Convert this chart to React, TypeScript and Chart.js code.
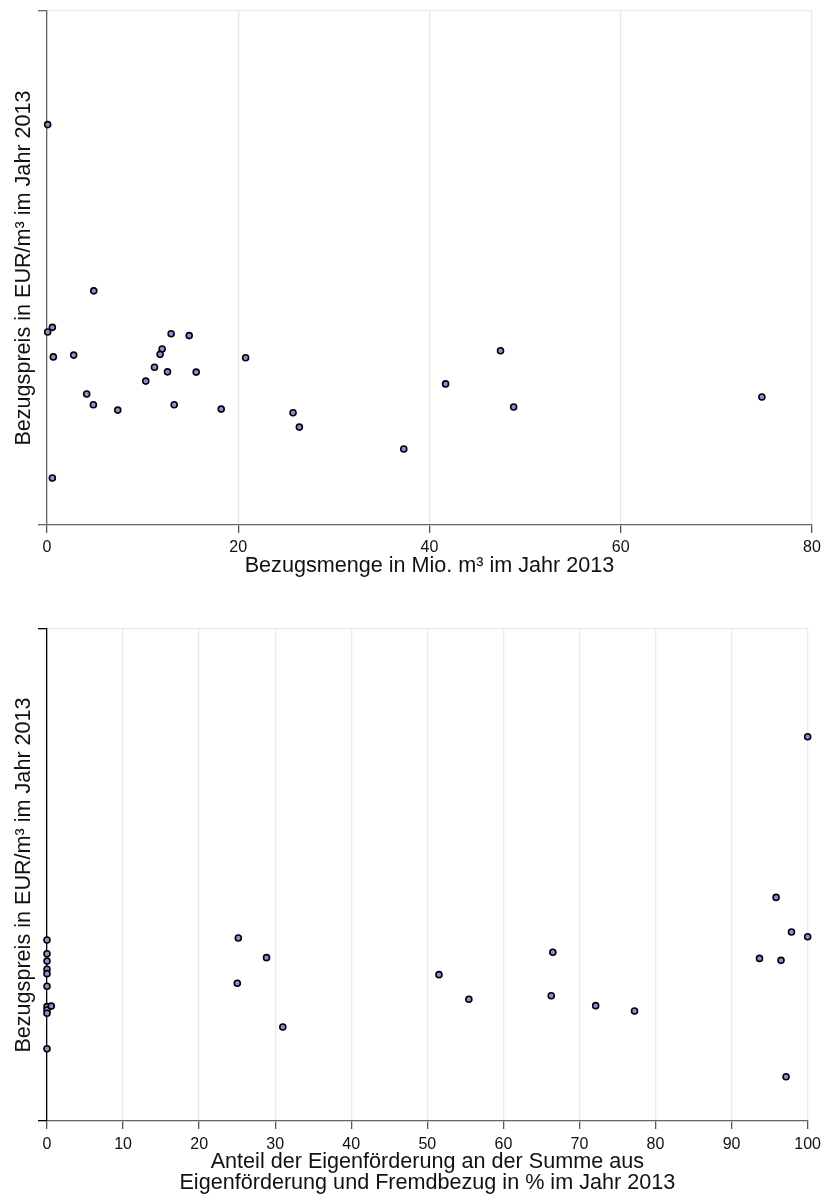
import React, { useEffect, useRef } from "react";
import { Chart, registerables } from "chart.js";

Chart.register(...registerables);

// Oberes Diagramm: Bezugsmenge (Mio. m³) gegen Bezugspreis
const mengeMio = [0.07, 4.89, 0.56, 0.07, 0.66, 2.79, 12.98, 14.87, 12.04, 11.83, 11.24, 12.6, 15.6, 10.33, 20.77, 4.15, 4.85, 13.3, 7.4, 18.22, 25.73, 26.39, 37.31, 0.56, 47.43, 41.68, 48.8, 74.76];
const preisMenge = [1.558, 0.911, 0.769, 0.751, 0.654, 0.661, 0.744, 0.737, 0.685, 0.664, 0.614, 0.596, 0.595, 0.56, 0.651, 0.51, 0.468, 0.468, 0.447, 0.451, 0.437, 0.381, 0.296, 0.183, 0.678, 0.549, 0.459, 0.498];

// Unteres Diagramm: Anteil der Eigenförderung (%) gegen Bezugspreis
const anteilEigen = [0, 0, 0, 0, 0, 0, 0, 0, 0, 0, 0.56, 25.15, 28.86, 25.02, 31.0, 51.53, 55.46, 66.5, 66.29, 72.13, 77.24, 93.67, 95.85, 96.5, 97.87, 100, 97.16, 100];
const preisAnteil = [0.736, 0.68, 0.65, 0.617, 0.599, 0.548, 0.465, 0.451, 0.438, 0.294, 0.467, 0.744, 0.664, 0.56, 0.382, 0.595, 0.495, 0.686, 0.509, 0.469, 0.447, 0.661, 0.909, 0.653, 0.768, 0.749, 0.18, 1.562];

const preisMin = 0;
const preisMax = 2;

const yTitle = "Bezugspreis in EUR/m³ im Jahr 2013";
const xTitleMenge = "Bezugsmenge in Mio. m³ im Jahr 2013";
const xTitleAnteil = [
  "Anteil der Eigenförderung an der Summe aus",
  "Eigenförderung und Fremdbezug in % im Jahr 2013",
];

const FONT = "'Liberation Sans', Arial, Helvetica, sans-serif";

type PanelProps = {
  top: number;
  height: number;
  xs: number[];
  ys: number[];
  xMax: number;
  xStep: number;
  xTitle: string | string[];
  padTop: number;
  padRight: number;
  plotBottom: number;
  yAxisColor: string;
  tickPad: number;
  titlePadBottom: number;
  titleLineHeight: number;
};

function ScatterPanel(p: PanelProps) {
  const ref = useRef<HTMLCanvasElement | null>(null);

  useEffect(() => {
    if (!ref.current) return;
    const points = p.xs.map((x, i) => ({ x, y: p.ys[i] }));
    const chart = new Chart(ref.current, {
      type: "scatter",
      data: {
        datasets: [
          {
            data: points,
            pointRadius: 3,
            pointBorderWidth: 1.6,
            pointBackgroundColor: "#8f8fd8",
            pointBorderColor: "#000000",
            clip: false as any,
          },
        ],
      },
      options: {
        animation: false,
        responsive: false,
        layout: { padding: { top: p.padTop, right: p.padRight, left: 0, bottom: 0 } },
        plugins: { legend: { display: false }, tooltip: { enabled: false } },
        scales: {
          x: {
            type: "linear",
            min: 0,
            max: p.xMax,
            afterFit: (s: any) => {
              s.height = p.height - p.plotBottom;
            },
            ticks: {
              stepSize: p.xStep,
              color: "#111",
              padding: p.tickPad,
              font: { family: FONT, size: 16 },
            },
            grid: {
              color: "#e4ecef",
              lineWidth: 1.3,
              tickColor: "#555",
              tickLength: 8,
              drawTicks: true,
            },
            border: { display: true, color: "#666", width: 1.3 },
            title: {
              display: true,
              text: p.xTitle as any,
              color: "#111",
              font: { family: FONT, size: 21.6, lineHeight: p.titleLineHeight },
              padding: { top: 0, bottom: p.titlePadBottom },
            },
          },
          y: {
            type: "linear",
            min: preisMin,
            max: preisMax,
            afterFit: (s: any) => {
              s.width = 47;
            },
            afterBuildTicks: (s: any) => {
              s.ticks = [{ value: preisMin }, { value: preisMax }];
            },
            ticks: { display: false },
            grid: {
              color: "#e4ecef",
              lineWidth: 1.3,
              tickColor: p.yAxisColor,
              tickLength: 9,
            },
            border: { display: true, color: p.yAxisColor, width: 1.3 },
            title: {
              display: true,
              text: yTitle,
              color: "#111",
              font: { family: FONT, size: 21.6, lineHeight: 1.2 },
              padding: { top: 11, bottom: 0 },
            },
          },
        },
      },
    });
    return () => chart.destroy();
  }, []);

  return (
    <canvas
      ref={ref}
      width={827}
      height={p.height}
      style={{ position: "absolute", left: 0, top: p.top, width: 827, height: p.height, display: "block" }}
    />
  );
}

export default function App() {
  return (
    <div style={{ position: "absolute", left: 0, top: 0, width: 827, height: 1197, background: "#fff" }}>
      <ScatterPanel
        top={0}
        height={600}
        xs={mengeMio}
        ys={preisMenge}
        xMax={80}
        xStep={20}
        xTitle={xTitleMenge}
        padTop={11}
        padRight={15}
        plotBottom={525}
        yAxisColor="#666"
        tickPad={5}
        titlePadBottom={21}
        titleLineHeight={1.2}
      />
      <ScatterPanel
        top={600}
        height={597}
        xs={anteilEigen}
        ys={preisAnteil}
        xMax={100}
        xStep={10}
        xTitle={xTitleAnteil}
        padTop={29}
        padRight={17}
        plotBottom={521}
        yAxisColor="#000"
        tickPad={6}
        titlePadBottom={3}
        titleLineHeight={1.0}
      />
    </div>
  );
}
